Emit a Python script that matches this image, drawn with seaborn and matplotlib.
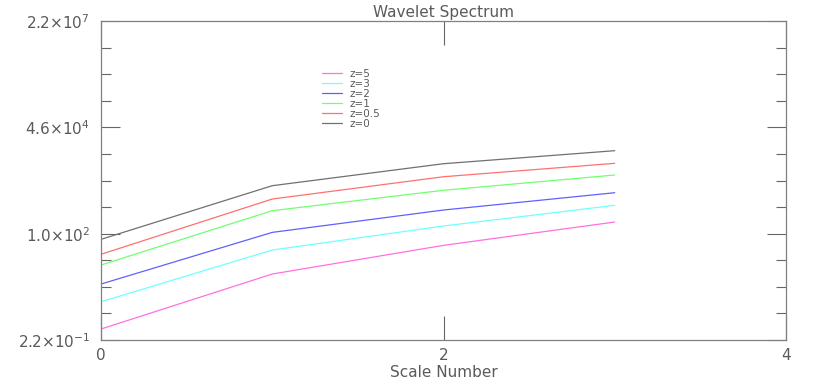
import numpy as np
import pandas as pd
import matplotlib
matplotlib.use('Agg')
import matplotlib.pyplot as plt
import seaborn as sb
from matplotlib.ticker import FixedLocator, NullFormatter, NullLocator

# scale number on x, spectrum power on y (log), one line per redshift
scale_number = [0, 1, 2, 3]
power_z0 = [73.6, 1630, 5800, 12300]
power_z05 = [31, 755, 2735, 5930]
power_z1 = [16.7, 385, 1250, 3020]
power_z2 = [5.57, 110, 400, 1087]
power_z3 = [2.0, 39.7, 159, 525]
power_z5 = [0.415, 9.93, 52, 200]

z_labels = ['z=5', 'z=3', 'z=2', 'z=1', 'z=0.5', 'z=0']
z_colors = ['#ff70e0', '#70ffff', '#6060ff', '#70ff70', '#ff7070', '#707070']
y_tick_labels = [r'$2.2{\times}10^{-1}$', r'$1.0{\times}10^{2}$',
                 r'$4.6{\times}10^{4}$', r'$2.2{\times}10^{7}$']
x_ticks = [0, 2, 4]

series = {'z=0': power_z0, 'z=0.5': power_z05, 'z=1': power_z1,
          'z=2': power_z2, 'z=3': power_z3, 'z=5': power_z5}
rows = []
for name, vals in series.items():
    for xv, yv in zip(scale_number, vals):
        rows.append({'scale': xv, 'power': yv, 'z': name})
df = pd.DataFrame(rows)

sb.set_style('ticks')
plt.rcParams['font.family'] = ['DejaVu Sans']
plt.rcParams['mathtext.fontset'] = 'dejavusans'
txt_col = '#5a5a5a'

fig = plt.figure(figsize=(8.17, 3.82), dpi=100)
ax = fig.add_axes([101 / 817, 1 - 340 / 382, 685 / 817, 319 / 382])

sb.lineplot(data=df, x='scale', y='power', hue='z', hue_order=z_labels,
            palette=dict(zip(z_labels, z_colors)), linewidth=0.9, ax=ax,
            legend=False)

ax.set_yscale('log')
ymin, ymax = 0.22, 2.2e7
ax.set_ylim(ymin, ymax)
ax.set_xlim(0, 4)
lo, hi = np.log10(ymin), np.log10(ymax)
major = 10 ** np.linspace(lo, hi, 4)
minor = 10 ** np.linspace(lo, hi, 13)
ax.yaxis.set_major_locator(FixedLocator(major))
ax.yaxis.set_minor_locator(FixedLocator(minor))
ax.yaxis.set_minor_formatter(NullFormatter())
ax.set_yticklabels(y_tick_labels)
ax.set_xticks(x_ticks)
ax.set_xticklabels([str(v) for v in x_ticks])
ax.xaxis.set_minor_locator(NullLocator())

ax.tick_params(which='both', direction='in', top=True, right=True,
               colors='#666666', labelcolor=txt_col, labelsize=11, width=0.8)
ax.tick_params(axis='y', which='major', length=14, pad=8)
ax.tick_params(axis='y', which='minor', length=7)
ax.tick_params(axis='x', which='major', length=17, pad=6)
for sp in ax.spines.values():
    sp.set_color('#808080')
    sp.set_linewidth(0.9)

ax.set_xlabel('Scale Number', color=txt_col, fontsize=11, labelpad=1)
ax.set_ylabel('')
ax.set_title('Wavelet Spectrum', color=txt_col, fontsize=11, pad=3)

handles = [plt.Line2D([], [], color=c, lw=0.9) for c in z_colors]
ax.legend(handles, z_labels, loc='upper left', frameon=False,
          bbox_to_anchor=(322 / 817, 1 - 69 / 382), bbox_transform=fig.transFigure,
          fontsize=7.5, labelcolor=txt_col, handlelength=1.9, handletextpad=0.75,
          labelspacing=0.0, borderpad=0, borderaxespad=0)

fig.savefig('out.png', dpi=100)
